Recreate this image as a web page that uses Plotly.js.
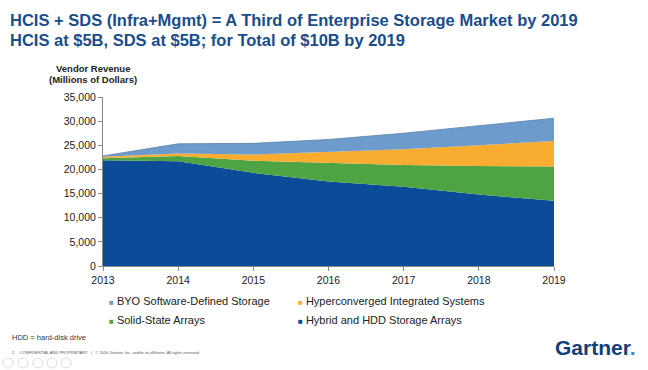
<!DOCTYPE html>
<html>
<head>
<meta charset="utf-8">
<script src="https://cdn.plot.ly/plotly-3.0.1.min.js"></script>
<style>html,body{margin:0;padding:0;background:#fff;}#chart{width:648px;height:370px;}</style>
</head>
<body>
<div id="chart"></div>
<script>
const years = [2013, 2014, 2015, 2016, 2017, 2018, 2019];
const hybridHDD = [21900, 21700, 19300, 17500, 16400, 14800, 13500];
const solidState = [400, 1100, 2500, 3800, 4500, 5900, 7100];
const hyperconverged = [300, 500, 1300, 2400, 3300, 4300, 5300];
const byoSDS = [200, 2000, 2300, 2500, 3300, 4000, 4700];
const seriesNames = ['Hybrid and HDD Storage Arrays', 'Solid-State Arrays', 'Hyperconverged Integrated Systems', 'BYO Software-Defined Storage'];
const seriesColors = ['#0b4b97', '#4ea342', '#f8ad31', '#6d9bcb'];
const seriesValues = [hybridHDD, solidState, hyperconverged, byoSDS];
const yTicks = [0, 5000, 10000, 15000, 20000, 25000, 30000, 35000];

const traces = seriesValues.map((v, i) => ({
  x: years, y: v, name: seriesNames[i], type: 'scatter', mode: 'lines',
  stackgroup: 'one', fillcolor: seriesColors[i],
  line: {width: i === 3 ? 0.8 : 0, color: i === 3 ? '#5a7fa8' : seriesColors[i]},
  hoverinfo: 'skip'
}));

// legend as annotations (2 x 2)
const legendOrder = [3, 2, 1, 0];
const legendPos = [[107, 301], [296, 301], [107, 320], [296, 320]];
const annotations = legendOrder.map((s, k) => ({
  xref: 'paper', yref: 'paper', xanchor: 'left', yanchor: 'middle',
  x: (legendPos[k][0] - 103) / 451, y: (266 - legendPos[k][1]) / 169,
  text: '<span style="color:' + seriesColors[s] + ';font-size:8px">■</span> ' + seriesNames[s],
  showarrow: false, font: {family: 'Liberation Sans, Arial', size: 11, color: '#222'}
}));

annotations.push(
  {xref: 'paper', yref: 'paper', x: (93 - 103) / 451, y: (266 - 68) / 169, xanchor: 'center', yanchor: 'middle',
   text: '<b>Vendor Revenue</b>', showarrow: false, font: {family: 'Liberation Sans, Arial', size: 9.5, color: '#222'}},
  {xref: 'paper', yref: 'paper', x: (93 - 103) / 451, y: (266 - 80) / 169, xanchor: 'center', yanchor: 'middle',
   text: '<b>(Millions of Dollars)</b>', showarrow: false, font: {family: 'Liberation Sans, Arial', size: 9.5, color: '#222'}},
  {xref: 'paper', yref: 'paper', x: (8 - 103) / 451, y: (266 - 20) / 169, xanchor: 'left', yanchor: 'middle',
   text: '<b>HCIS + SDS (Infra+Mgmt) = A Third of Enterprise Storage Market by 2019</b>', showarrow: false,
   font: {family: 'Liberation Sans, Arial', size: 16.5, color: '#1a4d8a'}},
  {xref: 'paper', yref: 'paper', x: (8 - 103) / 451, y: (266 - 40) / 169, xanchor: 'left', yanchor: 'middle',
   text: '<b>HCIS at $5B, SDS at $5B; for Total of $10B by 2019</b>', showarrow: false,
   font: {family: 'Liberation Sans, Arial', size: 16.5, color: '#1a4d8a'}},
  {xref: 'paper', yref: 'paper', x: (10 - 103) / 451, y: (266 - 337) / 169, xanchor: 'left', yanchor: 'middle',
   text: 'HDD = hard-disk drive', showarrow: false, font: {family: 'Liberation Sans, Arial', size: 7.5, color: '#333'}},
  {xref: 'paper', yref: 'paper', x: (10 - 103) / 451, y: (266 - 352) / 169, xanchor: 'left', yanchor: 'middle',
   text: '2     CONFIDENTIAL AND PROPRIETARY   |   © 2016 Gartner, Inc. and/or its affiliates. All rights reserved.', showarrow: false,
   font: {family: 'Liberation Sans, Arial', size: 4, color: '#555'}},
  {xref: 'paper', yref: 'paper', x: (638 - 103) / 451, y: (266 - 347) / 169, xanchor: 'right', yanchor: 'middle',
   text: '<b>Gartner<span style="color:#2a8fd0">.</span></b>', showarrow: false,
   font: {family: 'Liberation Sans, Arial', size: 21, color: '#123f7a'}}
);

const shapes = [8, 23, 38, 52, 66].map(cx => ({
  type: 'circle', xref: 'paper', yref: 'paper',
  x0: (cx - 5 - 103) / 451, x1: (cx + 5 - 103) / 451,
  y0: (266 - 368) / 169, y1: (266 - 358) / 169,
  line: {color: '#dddddd', width: 1}
}));

const layout = {
  width: 648, height: 370,
  margin: {l: 103, r: 94, t: 97, b: 104},
  paper_bgcolor: '#fff', plot_bgcolor: '#fff',
  showlegend: false,
  font: {family: 'Liberation Sans, Arial', size: 10.5, color: '#222'},
  xaxis: {
    range: [2013, 2019], tickvals: years, ticktext: years.map(String),
    showline: true, linecolor: '#888', linewidth: 1, ticks: 'outside', ticklen: 4, tickcolor: '#888',
    showgrid: false, zeroline: false, tickfont: {size: 10.5, color: '#222'}
  },
  yaxis: {
    range: [0, 35000], tickvals: yTicks, ticktext: yTicks.map(v => v.toLocaleString('en-US')),
    showline: true, linecolor: '#888', linewidth: 1, ticks: 'outside', ticklen: 4, tickcolor: '#888',
    showgrid: false, zeroline: false, tickfont: {size: 10.5, color: '#222'}
  },
  annotations: annotations,
  shapes: shapes
};

Plotly.newPlot('chart', traces, layout, {displayModeBar: false, staticPlot: true});
</script>
</body>
</html>
